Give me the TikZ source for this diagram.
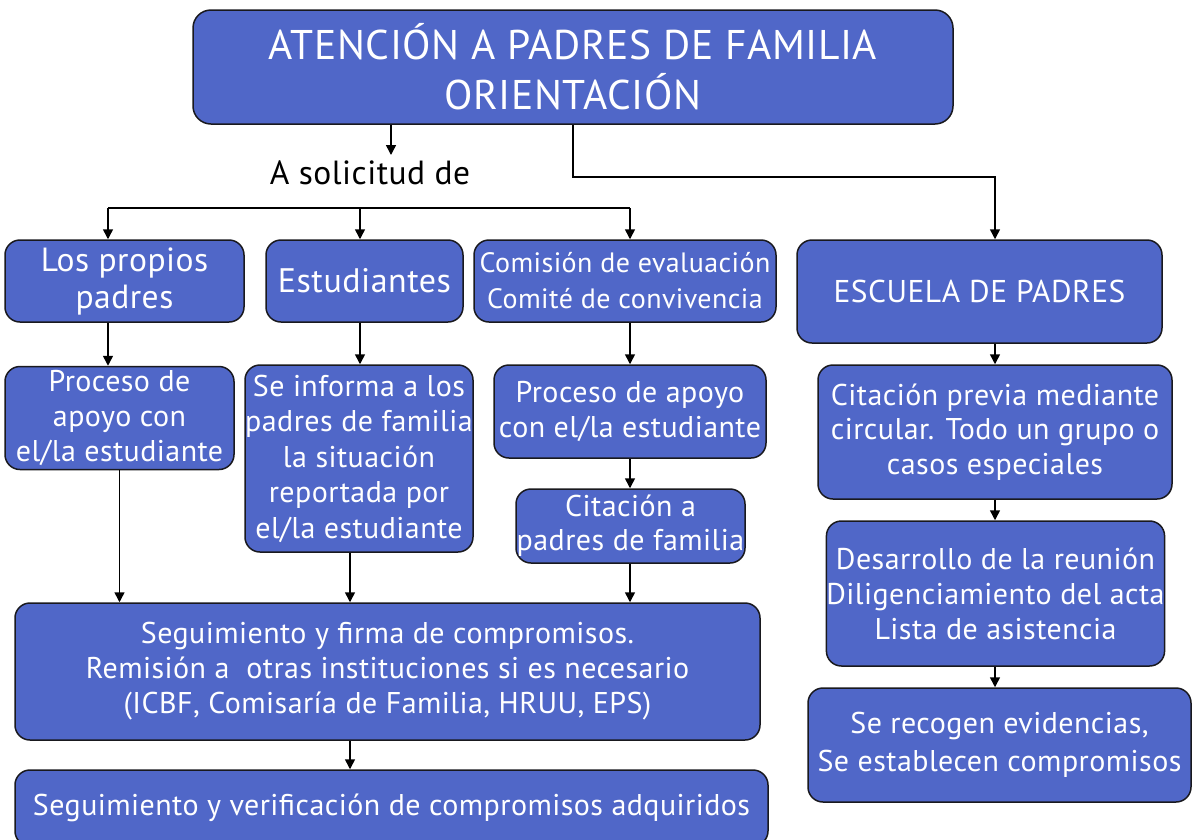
\documentclass[tikz,border=0pt]{standalone}
\usepackage{fontspec}
\setmainfont{PT Sans}[LetterSpace=1.5]
\usetikzlibrary{arrows.meta,calc}
\definecolor{boxblue}{RGB}{80,103,200}
\definecolor{edge}{RGB}{25,25,30}
\tikzset{
  box/.style={draw=edge, line width=1.5pt, fill=boxblue, rounded corners=15pt,
    text=white, align=center, inner sep=0pt, font=\fontsize{30}{35}\selectfont},
  arr/.style={line width=1.5pt, -{Triangle[length=10pt,width=10pt]}},
  ln/.style={line width=1.5pt}
}
\begin{document}
\begin{tikzpicture}[x=1pt,y=-1pt]
\useasboundingbox (0,0) rectangle (1192,839);
\begin{scope}
\clip (0,0) rectangle (1192,839);
% top
\node[box, minimum width=760pt, minimum height=114pt, rounded corners=18pt,
  font=\fontsize{41.5}{50}\selectfont] (top) at (573,67) {ATENCIÓN A PADRES DE FAMILIA\\ORIENTACIÓN};
\node[text=black, inner sep=0pt, font=\fontsize{33.5}{38}\selectfont] (sol) at (370,173) {A solicitud de};
% row 2
\node[box, minimum width=239pt, minimum height=82pt, font=\fontsize{33.5}{37}\selectfont] (A) at (124.5,281) {Los propios\\padres};
\node[box, minimum width=197pt, minimum height=82pt, font=\fontsize{34}{38}\selectfont] (B) at (364.5,281) {Estudiantes};
\node[box, minimum width=302pt, minimum height=82pt, font=\fontsize{28}{36}\selectfont] (C) at (625,281) {Comisión de evaluación\\Comité de convivencia};
\node[box, minimum width=365pt, minimum height=103pt, font=\fontsize{31.5}{37}\selectfont] (D) at (979.5,291.5) {ESCUELA DE PADRES};
% row 3
\node[box, minimum width=229pt, minimum height=103pt] (E) at (119.5,418) {Proceso de\\apoyo con\\el/la estudiante};
\node[box, minimum width=228pt, minimum height=187pt, font=\fontsize{30}{35.5}\selectfont] (F) at (359,458.5) {Se informa a los\\padres de familia\\la situación\\reportada por\\el/la estudiante};
\node[box, minimum width=272pt, minimum height=93pt] (G) at (630,411.5) {Proceso de apoyo\\con el/la estudiante};
\node[box, minimum width=229pt, minimum height=74pt, font=\fontsize{30}{34}\selectfont] (H) at (630.5,526) {Citación a\\padres de familia};
\node[box, minimum width=354pt, minimum height=134pt, font=\fontsize{30}{34.5}\selectfont] (I) at (995,432) {Citación previa mediante\\circular. Todo un grupo o\\casos especiales};
\node[box, minimum width=333pt, minimum height=145pt] (J) at (995.5,593.5) {Desarrollo de la reunión\\Diligenciamiento del acta\\Lista de asistencia};
\node[box, minimum width=383pt, minimum height=114pt, font=\fontsize{30}{38}\selectfont] (K) at (999.5,745) {Se recogen evidencias,\\Se establecen compromisos};
% row 4
\node[box, minimum width=745pt, minimum height=137pt] (L) at (387.5,671.5) {Seguimiento y firma de compromisos.\\Remisión a\ \ otras instituciones si es necesario\\(ICBF, Comisaría de Familia, HRUU, EPS)};
\node[box, minimum width=753pt, minimum height=76pt] (M) at (391.5,808) {Seguimiento y verificación de compromisos adquiridos};
\end{scope}
% coordinates
\coordinate (s1) at (391,155);
\coordinate (bl) at (108,208);
\coordinate (bm) at (360,208);
\coordinate (br) at (630,208);
\coordinate (rb) at (995,177);
\coordinate (cf) at (350,560);
% connectors
\draw[arr] (top.south -| s1) -- (s1);
\draw[ln] (bl) -- (br);
\draw[arr] (bl) -- (bl |- A.north);
\draw[arr] (bm) -- (bm |- B.north);
\draw[arr] (br) -- (br |- C.north);
\draw[arr] (top.south) |- (rb) -- (rb |- D.north);
\draw[arr] (bl |- A.south) -- (bl |- E.north);
\draw[arr] (bm |- B.south) -- (bm |- F.north);
\draw[arr] (br |- C.south) -- (br |- G.north);
\draw[arr] (br |- G.south) -- (br |- H.north);
\draw[arr] (E.south) -- (E.south |- L.north);
\draw[arr] (cf |- F.south) -- (cf |- L.north);
\draw[arr] (br |- H.south) -- (br |- L.north);
\draw[arr] (cf |- L.south) -- (cf |- M.north);
\draw[arr] (rb |- D.south) -- (rb |- I.north);
\draw[arr] (rb |- I.south) -- (rb |- J.north);
\draw[arr] (rb |- J.south) -- (rb |- K.north);
\end{tikzpicture}
\end{document}
